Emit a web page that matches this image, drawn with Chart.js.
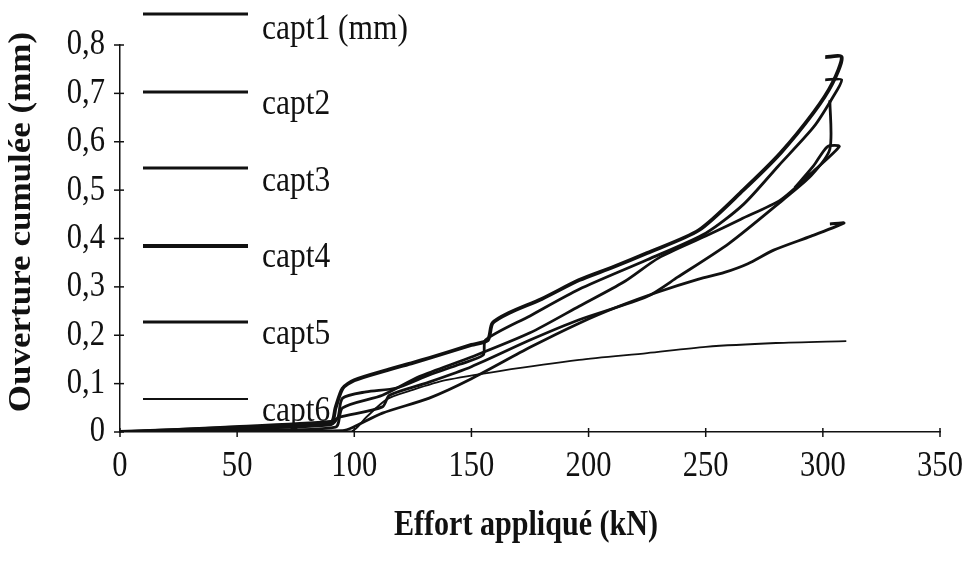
<!DOCTYPE html>
<html>
<head>
<meta charset="utf-8">
<script src="https://cdn.jsdelivr.net/npm/chart.js@4.4.1/dist/chart.umd.min.js"></script>
<style>
  html, body { margin: 0; padding: 0; background: #fff; }
  canvas { display: block; }
</style>
</head>
<body>
<canvas id="c" width="967" height="566"></canvas>
<script>
/* Ouverture cumulée vs effort appliqué — six capteurs, cycles charge/décharge. */
const seriesLabels = ["capt1 (mm)", "capt2", "capt3", "capt4", "capt5", "capt6"];
const xTicks = [0, 50, 100, 150, 200, 250, 300, 350];
const yTicks = [0, 0.1, 0.2, 0.3, 0.4, 0.5, 0.6, 0.7, 0.8];

// [effort kN, ouverture mm]
const capt1 = [[0,0],[45,0.002],[95,0.003],[99.5,0.01],[112,0.039],[132,0.07],[150,0.11],[175,0.175],[196,0.225],[213,0.26],[230,0.29],[247,0.316],[258,0.33],[268,0.348],[279,0.376],[295,0.405],[309,0.432],[303,0.43]];
const capt2 = [[0,0],[45,0.004],[92,0.01],[95,0.05],[112,0.076],[128,0.115],[150,0.155],[175,0.205],[196,0.26],[215,0.31],[230,0.36],[250,0.405],[265,0.44],[282,0.48],[295,0.535],[307,0.59],[302,0.59],[296,0.55],[288,0.505]];
const capt3 = [[0,0],[45,0.006],[90,0.015],[93,0.03],[95,0.07],[105,0.083],[118,0.091],[132,0.118],[145,0.14],[155,0.159],[156,0.19],[175,0.24],[196,0.295],[225,0.356],[250,0.411],[266,0.47],[281,0.55],[296,0.63],[304,0.69],[308,0.728],[301,0.728]];
const capt4 = [[0,0],[45,0.008],[90,0.02],[92,0.05],[95,0.09],[100,0.107],[114,0.128],[125,0.143],[132,0.153],[150,0.18],[157,0.19],[159,0.225],[166,0.246],[180,0.275],[196,0.314],[210,0.34],[225,0.37],[247,0.417],[266,0.5],[282,0.577],[296,0.66],[304,0.72],[308,0.775],[301,0.775]];
const capt5 = [[0,0],[45,0.01],[90,0.022],[94,0.031],[112,0.052],[115,0.076],[130,0.1],[150,0.135],[175,0.19],[196,0.232],[225,0.28],[238,0.32],[260,0.39],[283,0.48],[295,0.53],[303,0.585],[303,0.686]];
const capt6 = [[0,0],[60,0.002],[99,0.002],[105,0.03],[114,0.068],[125,0.087],[139,0.107],[162,0.126],[196,0.149],[225,0.163],[250,0.176],[280,0.184],[310,0.188]];

const seriesData = [capt1, capt2, capt3, capt4, capt5, capt6];
const widths = [2.8, 2.8, 2.8, 3.8, 2.8, 1.8];
const INK = "#111";

const fmtY = (v) => (v === 0 ? "0" : v.toFixed(1).replace(".", ","));
const SERIF = "'Liberation Serif', 'Times New Roman', serif";

function txt(ctx, s, x, y, size, bold, align, sx, rot) {
  ctx.save();
  ctx.translate(x, y);
  if (rot) ctx.rotate(rot);
  if (rot) ctx.scale(1, sx); else ctx.scale(sx, 1);
  ctx.font = (bold ? "bold " : "") + size + "px " + SERIF;
  ctx.fillStyle = INK;
  ctx.textAlign = align;
  ctx.textBaseline = "middle";
  ctx.fillText(s, 0, 0);
  ctx.restore();
}

// axis text, crossing ticks and the side legend (scanned look)
const decor = {
  id: "decor",
  beforeDraw(chart) {
    const ctx = chart.ctx;
    ctx.save(); ctx.fillStyle = "#fff"; ctx.fillRect(0, 0, chart.width, chart.height); ctx.restore();
  },
  afterDraw(chart) {
    const ctx = chart.ctx, xs = chart.scales.x, ys = chart.scales.y;
    const x0 = xs.getPixelForValue(0), y0 = ys.getPixelForValue(0);
    ctx.save();
    ctx.strokeStyle = INK; ctx.lineWidth = 1.5;
    xTicks.forEach((v) => { const p = xs.getPixelForValue(v); ctx.beginPath(); ctx.moveTo(p, y0 - 4); ctx.lineTo(p, y0 + 5); ctx.stroke(); });
    yTicks.forEach((v) => { const p = ys.getPixelForValue(v); ctx.beginPath(); ctx.moveTo(x0 - 6, p); ctx.lineTo(x0 + 4, p); ctx.stroke(); });
    ctx.restore();
    xTicks.forEach((v) => txt(ctx, String(v), xs.getPixelForValue(v), y0 + 35, 36, false, "center", 0.85));
    yTicks.forEach((v) => txt(ctx, fmtY(v), x0 - 15, ys.getPixelForValue(v), 36, false, "right", 0.85));
    txt(ctx, "Effort appliqué (kN)", (xs.left + xs.right) / 2 - 4, 526, 35, true, "center", 0.86);
    txt(ctx, "Ouverture cumulée (mm)", 22, 222, 35, true, "center", 0.88, -Math.PI / 2);

    const lineY = [14, 92, 168, 246, 322, 399];
    const textY = [30, 105, 182, 258, 335, 412];
    chart.data.datasets.forEach((d, i) => {
      ctx.save();
      ctx.strokeStyle = INK; ctx.lineWidth = d.borderWidth;
      ctx.beginPath(); ctx.moveTo(143, lineY[i]); ctx.lineTo(248, lineY[i]); ctx.stroke();
      ctx.restore();
      txt(ctx, d.label, 262, textY[i], 35, false, "left", 0.9);
    });
  }
};

new Chart(document.getElementById("c"), {
  type: "scatter",
  data: {
    datasets: seriesData.map((pts, i) => ({
      label: seriesLabels[i], data: pts, showLine: true, pointRadius: 0,
      borderColor: INK, backgroundColor: INK, borderWidth: widths[i], tension: 0.25, fill: false
    }))
  },
  options: {
    responsive: false, animation: false, devicePixelRatio: 1,
    layout: { padding: { top: 45, right: 27, left: 0, bottom: 0 } },
    plugins: { legend: { display: false }, tooltip: { enabled: false } },
    scales: {
      x: { type: "linear", min: 0, max: 350, afterFit: (s) => { s.height = 134; },
        ticks: { display: false, stepSize: 50 }, grid: { display: false },
        border: { display: true, color: INK, width: 1.5 } },
      y: { type: "linear", min: 0, max: 0.8, afterFit: (s) => { s.width = 120; },
        ticks: { display: false, stepSize: 0.1 }, grid: { display: false },
        border: { display: true, color: INK, width: 1.5 } }
    }
  },
  plugins: [decor]
});
</script>
</body>
</html>
